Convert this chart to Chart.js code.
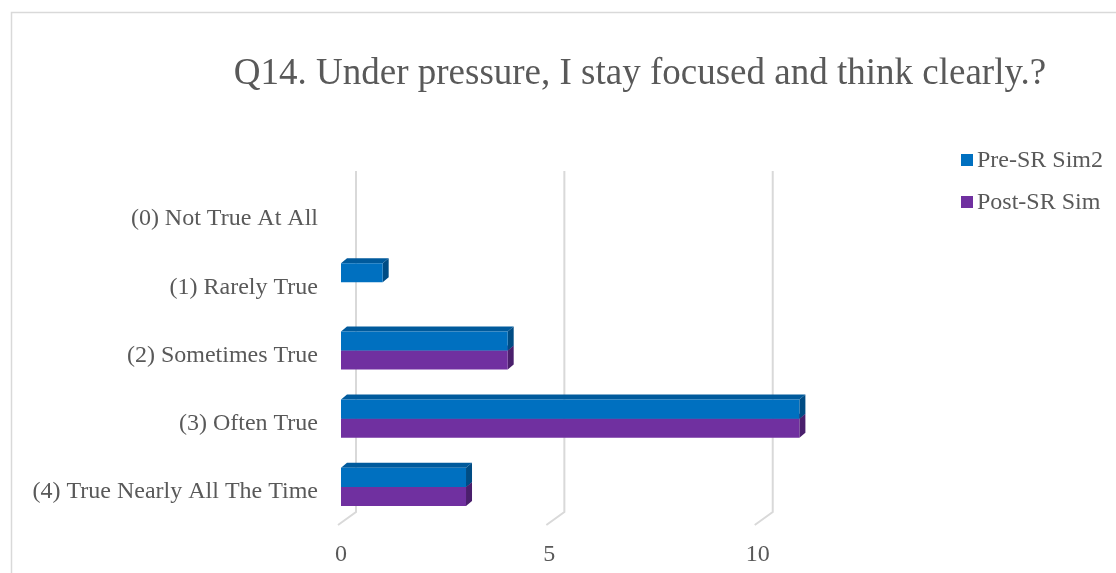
<!DOCTYPE html>
<html>
<head>
<meta charset="utf-8">
<title>Q14 chart</title>
<script src="https://cdn.jsdelivr.net/npm/chart.js@4.4.1/dist/chart.umd.min.js"></script>
<style>
  html, body { margin: 0; padding: 0; background: #fff; }
  #wrap { width: 1116px; height: 573px; position: relative; }
</style>
</head>
<body>
<div id="wrap"><canvas id="q14Chart"></canvas></div>
<script>
// chart data
const chartTitle = 'Q14. Under pressure, I stay focused and think clearly.?';
const categories = [
  '(0) Not True At All',
  '(1) Rarely True',
  '(2) Sometimes True',
  '(3) Often True',
  '(4) True Nearly All The Time'
];
const seriesNames = ['Pre-SR Sim2', 'Post-SR Sim'];
const preSrSim2 = [0, 1, 4, 11, 3];
const postSrSim = [0, 0, 4, 11, 3];
const xTicks = [0, 5, 10];

const textGrey = '#595959';
const lineGrey = '#d9d9d9';
const serif = "'Liberation Serif', 'Times New Roman', serif";

// colours for the front, top and side faces of each series
const faceColors = [
  { front: '#0070c0', top: '#005a9c', side: '#004c84' },
  { front: '#7030a0', top: '#5a2682', side: '#4a1f6c' }
];

// fake 3D: back wall gridlines + bar depth faces, plus title and legend
const depth3d = {
  id: 'depth3d',
  beforeDraw(chart) {
    const ctx = chart.ctx;
    ctx.save();
    ctx.strokeStyle = lineGrey;
    ctx.lineWidth = 1.5;
    ctx.strokeRect(11.5, 12.5, 1300, 800);
    ctx.restore();
  },
  beforeDatasetsDraw(chart) {
    const ctx = chart.ctx;
    const area = chart.chartArea;
    const xScale = chart.scales.x;
    ctx.save();
    ctx.strokeStyle = lineGrey;
    ctx.lineWidth = 2;
    xScale.ticks.forEach(t => {
      const px = xScale.getPixelForValue(t.value);
      ctx.beginPath();
      ctx.moveTo(px + 15, area.top - 9);
      ctx.lineTo(px + 15, area.bottom - 9);
      ctx.lineTo(px - 3, area.bottom + 4);
      ctx.stroke();
    });

    const dx = 6, dy = 5;
    for (let d = chart.data.datasets.length - 1; d >= 0; d--) {
      const meta = chart.getDatasetMeta(d);
      const col = faceColors[d];
      meta.data.forEach(bar => {
        const p = bar.getProps(['x', 'y', 'base', 'height'], true);
        if (Math.abs(p.x - p.base) < 0.5) return;
        const top = p.y - p.height / 2;
        const bot = p.y + p.height / 2;
        ctx.fillStyle = col.top;
        ctx.beginPath();
        ctx.moveTo(p.base, top);
        ctx.lineTo(p.base + dx, top - dy);
        ctx.lineTo(p.x + dx, top - dy);
        ctx.lineTo(p.x, top);
        ctx.closePath();
        ctx.fill();
        ctx.fillStyle = col.side;
        ctx.beginPath();
        ctx.moveTo(p.x, top);
        ctx.lineTo(p.x + dx, top - dy);
        ctx.lineTo(p.x + dx, bot - dy);
        ctx.lineTo(p.x, bot);
        ctx.closePath();
        ctx.fill();
      });
    }
    ctx.restore();
  },
  afterDraw(chart) {
    const ctx = chart.ctx;
    ctx.save();
    // title, centred over the plot + legend block
    ctx.font = '37px ' + serif;
    ctx.fillStyle = textGrey;
    ctx.textAlign = 'center';
    ctx.textBaseline = 'alphabetic';
    ctx.fillText(chartTitle, 640, 84);

    // legend on the right
    ctx.font = '24px ' + serif;
    ctx.textAlign = 'left';
    ctx.textBaseline = 'middle';
    chart.data.datasets.forEach((ds, i) => {
      const cy = 160 + i * 42;
      ctx.fillStyle = ds.backgroundColor;
      ctx.fillRect(961, cy - 6, 12, 12);
      ctx.fillStyle = textGrey;
      ctx.fillText(ds.label, 977, cy + 1);
    });
    ctx.restore();
  }
};

const ctx = document.getElementById('q14Chart').getContext('2d');
new Chart(ctx, {
  type: 'bar',
  data: {
    labels: categories,
    datasets: [
      { label: seriesNames[0], data: preSrSim2, backgroundColor: faceColors[0].front },
      { label: seriesNames[1], data: postSrSim, backgroundColor: faceColors[1].front }
    ]
  },
  options: {
    indexAxis: 'y',
    responsive: true,
    maintainAspectRatio: false,
    animation: false,
    layout: { padding: { left: 0, right: 177, top: 180, bottom: 0 } },
    datasets: {
      bar: { categoryPercentage: 0.56, barPercentage: 1, borderWidth: 0 }
    },
    scales: {
      x: {
        min: 0,
        max: 14.35,
        grid: { display: false, drawTicks: false },
        border: { display: false },
        afterBuildTicks: scale => { scale.ticks = xTicks.map(v => ({ value: v })); },
        afterFit: scale => { scale.height = 52; },
        ticks: {
          padding: 19,
          color: textGrey,
          font: { family: serif, size: 24 }
        }
      },
      y: {
        grid: { display: false, drawTicks: false },
        border: { display: false },
        afterFit: scale => { scale.width = 341; },
        ticks: {
          padding: 23,
          labelOffset: 5,
          color: textGrey,
          font: { family: serif, size: 24 }
        }
      }
    },
    plugins: {
      legend: { display: false },
      tooltip: { enabled: false },
      title: { display: false }
    }
  },
  plugins: [depth3d]
});
</script>
</body>
</html>
